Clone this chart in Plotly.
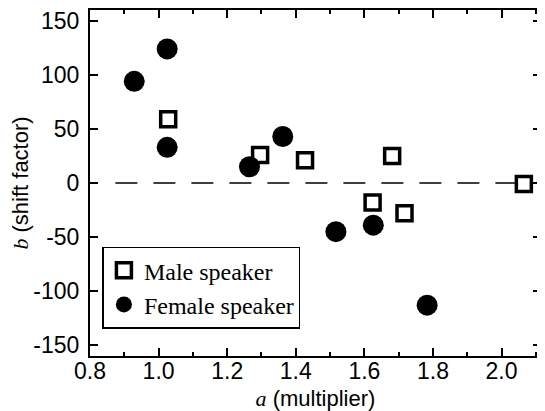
import plotly.graph_objects as go

male_a = [1.028, 1.296, 1.427, 1.624, 1.681, 1.717, 2.065]
male_b = [59, 26, 21, -18, 25, -28, -1]
female_a = [0.929, 1.025, 1.025, 1.265, 1.362, 1.517, 1.626, 1.783]
female_b = [94, 124, 33, 15, 43, -45, -39, -113]

x_ticks = [0.8, 1.0, 1.2, 1.4, 1.6, 1.8, 2.0]
x_ticklabels = ["0.8", "1.0", "1.2", "1.4", "1.6", "1.8", "2.0"]
y_ticks = [-150, -100, -50, 0, 50, 100, 150]
y_ticklabels = ["-150", "-100", "-50", "0", "50", "100", "150"]

fig = go.Figure()
fig.add_trace(go.Scatter(
    x=male_a, y=male_b, mode="markers", name="Male speaker",
    marker=dict(symbol="square", size=15, color="white",
                line=dict(color="black", width=3.5)),
))
fig.add_trace(go.Scatter(
    x=female_a, y=female_b, mode="markers", name="Female speaker",
    marker=dict(symbol="circle", size=21, color="black",
                line=dict(color="black", width=0)),
))

fig.add_shape(type="line", xref="x", yref="y", x0=0.874, x1=2.115, y0=0, y1=0,
              line=dict(color="black", width=1.5, dash="22px,16px"), layer="below")

axis_common = dict(
    showgrid=False, zeroline=False, showline=True, linecolor="black", linewidth=2,
    mirror="ticks", ticks="inside", tickcolor="black", tickwidth=1.5, ticklen=8,
    tickfont=dict(family="Liberation Sans, Arial", size=23, color="black"),
    ticklabeloverflow="allow",
)

fig.update_xaxes(
    range=[0.8, 2.115], tickvals=x_ticks, ticktext=x_ticklabels,
    minor=dict(dtick=0.1, ticks="inside", ticklen=4, tickcolor="black", tickwidth=1.5, tick0=0.8),
    title=dict(text="<span style='font-family:Liberation Serif, Times New Roman;font-style:italic'>a</span> (multiplier)",
               font=dict(family="Liberation Sans, Arial", size=22, color="black"), standoff=8),
    ticklabelstandoff=-7,
    **axis_common,
)
fig.update_yaxes(
    range=[-160, 160], tickvals=y_ticks, ticktext=y_ticklabels,
    title=dict(text="<span style='font-family:Liberation Serif, Times New Roman;font-style:italic'>b</span> (shift factor)",
               font=dict(family="Liberation Sans, Arial", size=22, color="black"), standoff=4),
    ticklabelstandoff=4,
    **axis_common,
)

fig.update_layout(
    width=537, height=403,
    margin=dict(l=82, r=4, t=0, b=55),
    plot_bgcolor="white", paper_bgcolor="white",
    showlegend=True,
    legend=dict(
        x=0.0275, y=0.316, xanchor="left", yanchor="top",
        bordercolor="black", borderwidth=1.5, bgcolor="white",
        font=dict(family="Liberation Serif, Times New Roman", size=24, color="black"),
        itemsizing="trace",
    ),
)

fig.write_html("out.html")
